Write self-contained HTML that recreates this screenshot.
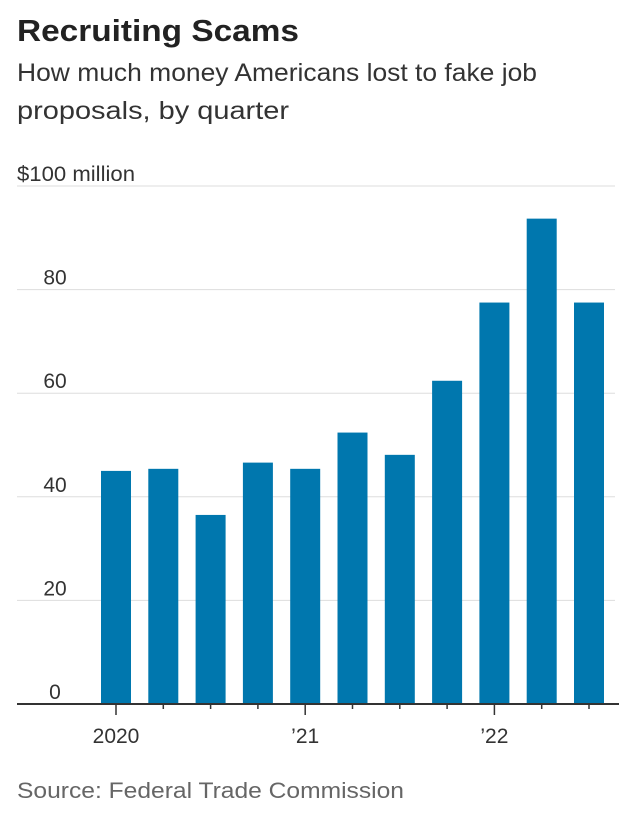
<!DOCTYPE html>
<html><head><meta charset="utf-8"><style>
body{margin:0;background:#fff;width:630px;height:814px;overflow:hidden;font-family:"Liberation Sans",sans-serif;}
</style></head><body>
<svg width="630" height="814" id="svg">
<text x="17" y="41" font-size="31" font-weight="bold" fill="#222" textLength="282" lengthAdjust="spacingAndGlyphs">Recruiting Scams</text>
<text x="17" y="81" font-size="25" fill="#333" textLength="520" lengthAdjust="spacingAndGlyphs">How much money Americans lost to fake job</text>
<text x="17" y="119" font-size="25" fill="#333" textLength="272" lengthAdjust="spacingAndGlyphs">proposals, by quarter</text>
<g id="grid"></g><g id="bars"></g><g id="xaxis"></g>
<text x="17" y="798" font-size="22" fill="#666" textLength="387" lengthAdjust="spacingAndGlyphs">Source: Federal Trade Commission</text>
</svg>
<script>
const quarters=['2020Q1','2020Q2','2020Q3','2020Q4','2021Q1','2021Q2','2021Q3','2021Q4','2022Q1','2022Q2','2022Q3','2022Q4'];
const losses=[45.0,45.4,36.5,46.6,45.4,52.4,48.1,62.4,77.5,93.7,77.5];
const yTicks=[0,20,40,60,80,100];
const yTickLabels=['0','20','40','60','80','$100 million'];
const xLabels={0:'2020',4:'\u201921',8:'\u201922'};
const NS='http://www.w3.org/2000/svg';
const y0=704,y100=186,x0=116,step=47.3,bw=30;
const y=v=>y0-(v/100)*(y0-y100);
const x=i=>x0+i*step;
function mk(t,a,p){const e=document.createElementNS(NS,t);for(const k in a)e.setAttribute(k,a[k]);document.getElementById(p).appendChild(e);return e;}
yTicks.forEach((t,i)=>{
  if(t>0){const l=mk('line',{x1:17,x2:615,y1:y(t),y2:y(t),stroke:'#ddd','stroke-width':1},'grid');
  
  }
  const tx=mk('text',{x:t===100?17:55,y:y(t)-5,'font-size':21,fill:'#333'},'grid');
  if(t!==100){tx.setAttribute('text-anchor','middle');}
  else{tx.setAttribute('textLength','118');tx.setAttribute('lengthAdjust','spacingAndGlyphs');}
  tx.textContent=yTickLabels[i];
  
  
});
losses.forEach((v,i)=>{
  const r=mk('rect',{x:x(i)-bw/2,y:y(v),width:bw,height:y0-y(v),fill:'#0077ae'},'bars');
  
  
});
const ax=mk('line',{x1:17,x2:619,y1:y0,y2:y0,stroke:'#333','stroke-width':2},'xaxis');


quarters.slice(0,losses.length).forEach((q,i)=>{
  const major=xLabels[i]!==undefined;
  const t=mk('line',{x1:x(i),x2:x(i),y1:y0,y2:y0+(major?11:5),stroke:'#333','stroke-width':1.5},'xaxis');
  
  
  if(major){const l=mk('text',{x:x(i),y:y0+39,'font-size':21,fill:'#333','text-anchor':'middle'},'xaxis');
  l.textContent=xLabels[i];
  
  }
});
</script>
</body></html>
